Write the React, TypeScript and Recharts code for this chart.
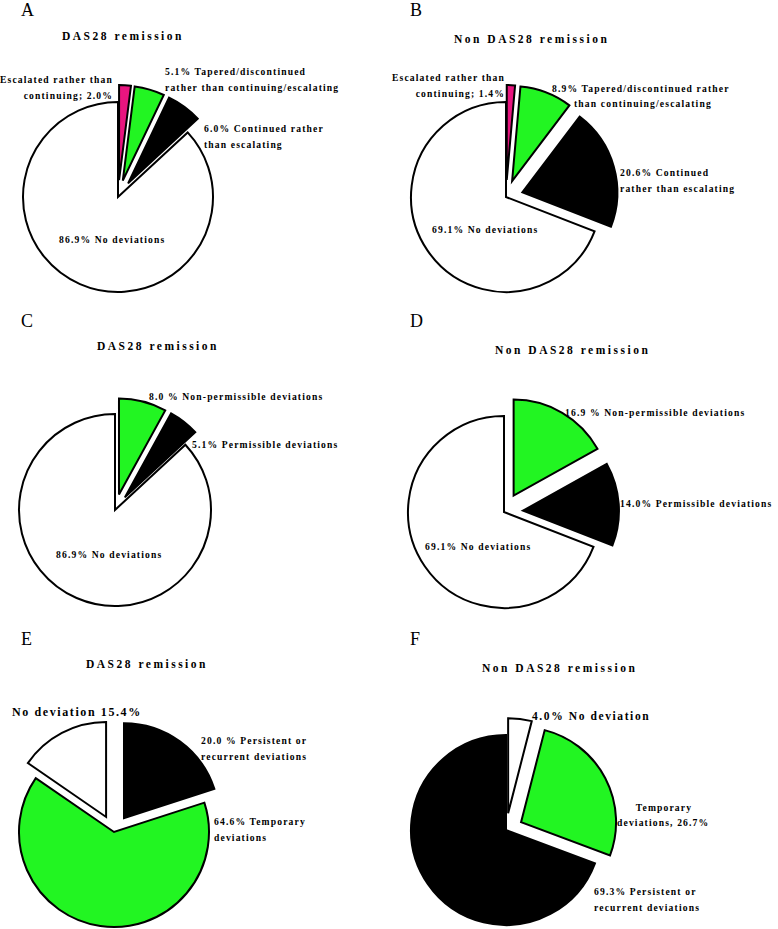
import React from "react";
import { PieChart, Pie, Cell } from "recharts";

// Panel A / B: treatment decisions vs. protocol
const decisionCategories = [
  "Escalated rather than continuing",
  "Tapered/discontinued rather than continuing/escalating",
  "Continued rather than escalating",
  "No deviations",
];
const decisionRemission = [2.0, 5.1, 6.0, 86.9];
const decisionNonRemission = [1.4, 8.9, 20.6, 69.1];

// Panel C / D: permissible vs non-permissible
const permissCategories = [
  "Non-permissible deviations",
  "Permissible deviations",
  "No deviations",
];
const permissRemission = [8.0, 5.1, 86.9];
const permissNonRemission = [16.9, 14.0, 69.1];

// Panel E: persistence, remission
const persistCategoriesE = [
  "Persistent or recurrent deviations",
  "Temporary deviations",
  "No deviation",
];
const persistRemission = [20.0, 64.6, 15.4];

// Panel F: persistence, non remission
const persistCategoriesF = [
  "No deviation",
  "Temporary deviations",
  "Persistent or recurrent deviations",
];
const persistNonRemission = [4.0, 26.7, 69.3];

const PINK = "#e8157f";
const GREEN = "#22f522";
const BLACK = "#000000";
const WHITE = "#ffffff";

const SERIF = "'Liberation Serif', 'Times New Roman', serif";

const toData = (cats: string[], vals: number[]) =>
  cats.map((name, i) => ({ name, value: vals[i] }));

// one Pie per slice so that each slice can be pushed out along its own bisector
function explodedPie(
  key: string,
  cats: string[],
  vals: number[],
  colors: string[],
  explode: number[],
  cx: number,
  cy: number,
  r: number,
  dist: number
) {
  const data = toData(cats, vals);
  const total = vals.reduce((a, b) => a + b, 0);
  let cum = 0;
  return vals.map((v, i) => {
    const mid = ((cum + v / 2) / total) * 2 * Math.PI;
    cum += v;
    const d = explode[i] ? dist : 0;
    const dx = d * Math.sin(mid);
    const dy = -d * Math.cos(mid);
    return (
      <Pie
        key={`${key}-${i}`}
        data={data}
        dataKey="value"
        nameKey="name"
        cx={cx + dx}
        cy={cy + dy}
        outerRadius={r}
        innerRadius={0}
        startAngle={90}
        endAngle={-270}
        isAnimationActive={false}
        label={false}
        labelLine={false}
      >
        {data.map((_, j) => (
          <Cell
            key={j}
            fill={j === i ? colors[j] : "none"}
            stroke={j === i ? "#000" : "none"}
            strokeWidth={2}
          />
        ))}
      </Pie>
    );
  });
}

const labelStyle = {
  fontFamily: SERIF,
  fontSize: 9.6,
  fontWeight: 700,
  letterSpacing: "1.15px",
  fill: "#000",
} as const;

const titleStyle = {
  fontFamily: SERIF,
  fontSize: 11.5,
  fontWeight: 700,
  letterSpacing: "2.5px",
  fill: "#000",
} as const;

const letterStyle = {
  fontFamily: SERIF,
  fontSize: 18,
  fill: "#000",
} as const;

const Lines = ({
  x,
  y,
  lines,
  anchor = "start",
  style = labelStyle,
}: {
  x: number;
  y: number;
  lines: string[];
  anchor?: "start" | "end" | "middle";
  style?: any;
}) => (
  <text x={x} y={y} textAnchor={anchor} style={style}>
    {lines.map((l, i) => (
      <tspan key={i} x={x} dy={i === 0 ? 0 : 16}>
        {l}
      </tspan>
    ))}
  </text>
);

export default function App() {
  return (
    <div style={{ position: "absolute", left: 0, top: 0, width: 778, height: 929, background: "#fff" }}>
      <PieChart width={778} height={929} margin={{ top: 0, right: 0, bottom: 0, left: 0 }}>
        {explodedPie("A", decisionCategories, decisionRemission, [PINK, GREEN, BLACK, WHITE], [1, 1, 1, 0], 118, 197, 95, 17)}
        {explodedPie("B", decisionCategories, decisionNonRemission, [PINK, GREEN, BLACK, WHITE], [1, 1, 1, 0], 506, 197, 95, 17)}
        {explodedPie("C", permissCategories, permissRemission, [GREEN, BLACK, WHITE], [1, 1, 0], 115, 510, 96, 16)}
        {explodedPie("D", permissCategories, permissNonRemission, [GREEN, BLACK, WHITE], [1, 1, 0], 504, 512, 96, 19)}
        {explodedPie("E", persistCategoriesE, persistRemission, [BLACK, GREEN, WHITE], [1, 0, 1], 114, 832, 95, 17)}
        {explodedPie("F", persistCategoriesF, persistNonRemission, [WHITE, GREEN, BLACK], [1, 1, 0], 506, 830, 95, 17)}
      </PieChart>

      {/* text layer above the pies */}
      <svg
        width={778}
        height={929}
        style={{ position: "absolute", left: 0, top: 0, pointerEvents: "none" }}
      >
        {/* panel letters */}
        <text x={21} y={16} style={letterStyle}>A</text>
        <text x={410} y={16} style={letterStyle}>B</text>
        <text x={21} y={327} style={letterStyle}>C</text>
        <text x={410} y={327} style={letterStyle}>D</text>
        <text x={21} y={645} style={letterStyle}>E</text>
        <text x={410} y={645} style={letterStyle}>F</text>

        {/* titles */}
        <text x={62} y={40} style={titleStyle}>DAS28 remission</text>
        <text x={454} y={43} style={titleStyle}>Non DAS28 remission</text>
        <text x={97} y={350} style={titleStyle}>DAS28 remission</text>
        <text x={495} y={354} style={titleStyle}>Non DAS28 remission</text>
        <text x={86} y={668} style={titleStyle}>DAS28 remission</text>
        <text x={482} y={672} style={titleStyle}>Non DAS28 remission</text>

        {/* A */}
        <Lines x={113} y={83} anchor="end" lines={["Escalated rather than", "continuing; 2.0%"]} />
        <Lines x={165} y={75} lines={["5.1% Tapered/discontinued", "rather than continuing/escalating"]} />
        <Lines x={204} y={132} lines={["6.0% Continued rather", "than escalating"]} />
        <Lines x={59} y={243} lines={["86.9% No deviations"]} />

        {/* B */}
        <Lines x={505} y={81} anchor="end" lines={["Escalated rather than", "continuing; 1.4%"]} />
        <text x={552} y={92} style={labelStyle}>8.9% Tapered/discontinued rather</text>
        <text x={574} y={107} style={labelStyle}>than continuing/escalating</text>
        <Lines x={620} y={176} lines={["20.6%  Continued", "rather than escalating"]} />
        <Lines x={432} y={233} lines={["69.1%  No deviations"]} />

        {/* C */}
        <Lines x={149} y={400} lines={["8.0 % Non-permissible deviations"]} />
        <Lines x={192} y={448} lines={["5.1% Permissible deviations"]} />
        <Lines x={56} y={558} lines={["86.9% No deviations"]} />

        {/* D */}
        <Lines x={565} y={416} lines={["16.9 % Non-permissible deviations"]} />
        <Lines x={620} y={507} lines={["14.0% Permissible deviations"]} />
        <Lines x={425} y={550} lines={["69.1% No deviations"]} />

        {/* E */}
        <Lines
          x={12}
          y={716}
          lines={["No deviation 15.4%"]}
          style={{ ...labelStyle, fontSize: 12, letterSpacing: "1.6px" }}
        />
        <Lines x={201} y={744} lines={["20.0 % Persistent or", "recurrent deviations"]} />
        <Lines x={214} y={825} lines={["64.6% Temporary", "deviations"]} />

        {/* F */}
        <Lines
          x={532}
          y={720}
          lines={["4.0% No deviation"]}
          style={{ ...labelStyle, fontSize: 11.5, letterSpacing: "1.6px" }}
        />
        <text x={664} y={811} textAnchor="middle" style={labelStyle}>Temporary</text>
        <text x={617} y={826} style={labelStyle}>deviations, 26.7%</text>
        <Lines x={594} y={895} lines={["69.3% Persistent or", "recurrent deviations"]} />
      </svg>
    </div>
  );
}
